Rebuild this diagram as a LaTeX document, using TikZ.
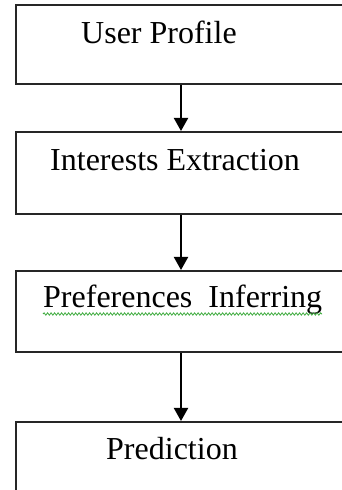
\documentclass[tikz,border=0pt]{standalone}
\usepackage{fontspec}
\setmainfont{Liberation Serif}
\usetikzlibrary{arrows.meta,decorations.pathmorphing}
\definecolor{squiggle}{RGB}{60,170,60}
\tikzset{
  stepbox/.style={draw=black!85, line width=2pt, rectangle, minimum width=330pt, inner sep=0pt},
  label/.style={anchor=base west, inner sep=0pt, font=\fontsize{32}{38}\selectfont},
  flow/.style={line width=2pt, -{Triangle[width=14pt,length=13pt]}}
}
\begin{document}
\begin{tikzpicture}[x=1pt,y=1pt]
\useasboundingbox (0,0) rectangle (342,490);
\clip (0,0) rectangle (342,490);
\node[stepbox, minimum height=79pt] (b1) at (181,445.5) {};
\node[stepbox, minimum height=82pt] (b2) at (181,317) {};
\node[stepbox, minimum height=81pt] (b3) at (181,178.5) {};
\node[stepbox, minimum height=88pt] (b4) at (181,24) {};
\node[label] (t1) at (81,446) {User Profile};
\node[label] (t2) at (50,319.3) {Interests Extraction};
\node[label] (t3) at (43,182) {Preferences\ \ Inferring};
\node[label] (t4) at (106,30) {Prediction};
\coordinate (w1) at (43,176);
\coordinate (w2) at (322,176);
\draw[squiggle, line width=0.8pt, decorate, decoration={snake, amplitude=1.2pt, segment length=3.5pt}] (w1) -- (w2);
\draw[flow] (b1.south) -- (b2.north);
\draw[flow] (b2.south) -- (b3.north);
\draw[flow] (b3.south) -- (b4.north);
\end{tikzpicture}
\end{document}
